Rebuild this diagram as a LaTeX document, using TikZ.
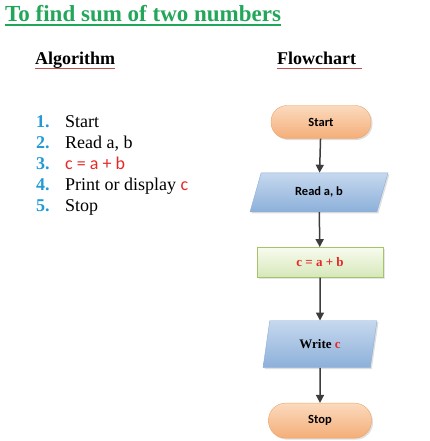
\documentclass[tikz,border=0pt]{standalone}
\usepackage{fontspec}
\setmainfont{Liberation Serif}
\newfontfamily\calibri{Carlito}
\usetikzlibrary{positioning,shapes.geometric,shadows,arrows.meta}
\definecolor{titlegreen}{RGB}{34,166,90}
\definecolor{linered}{RGB}{192,80,77}
\definecolor{numblue}{RGB}{35,155,210}
\definecolor{algred}{RGB}{230,40,40}
\definecolor{arrowgray}{RGB}{60,60,60}
\begin{document}
\begin{tikzpicture}[x=1pt,y=1pt,>={Triangle[length=8pt,width=8pt]},
		heading/.style={anchor=base west, inner sep=0pt, font=\fontsize{18}{22}\selectfont\bfseries},
		listnum/.style={anchor=base west, inner sep=0pt, text=numblue, font=\fontsize{18}{22}\selectfont\bfseries},
		listitem/.style={anchor=base west, inner sep=0pt, font=\fontsize{18}{22}\selectfont},
		terminal/.style={rectangle, rounded corners=16pt, minimum width=100pt, minimum height=33pt, draw={rgb,255:red,238;green,165;blue,105}, top color={rgb,255:red,251;green,218;blue,190}, bottom color={rgb,255:red,244;green,174;blue,120}, drop shadow={opacity=0.25, shadow xshift=1.5pt, shadow yshift=-1.5pt}, font=\calibri\fontsize{12.5}{14}\selectfont\bfseries},
		iobox/.style={trapezium, trapezium stretches body, draw={rgb,255:red,140;green,175;blue,215}, top color={rgb,255:red,198;green,216;blue,238}, bottom color={rgb,255:red,140;green,176;blue,218}, drop shadow={opacity=0.25, shadow xshift=1.5pt, shadow yshift=-1.5pt}, font=\fontsize{13}{15}\selectfont\bfseries},
		procbox/.style={rectangle, minimum width=126pt, minimum height=30pt, draw={rgb,255:red,165;green,196;blue,105}, top color={rgb,255:red,248;green,251;blue,238}, bottom color={rgb,255:red,214;green,232;blue,186}, drop shadow={opacity=0.2, shadow xshift=1.5pt, shadow yshift=-1.5pt}, font=\fontsize{13}{15}\selectfont\bfseries},
		flow/.style={draw, ->, arrowgray, line width=1.5pt}]
	\useasboundingbox (0,0) rectangle (430,-441);

	% title and headings
	\node[heading, text=titlegreen, font=\fontsize{23}{27}\selectfont\bfseries] (title) at (5,-22) {To find sum of two numbers};
	\draw[titlegreen, line width=2pt] ([yshift=-3pt]title.base west) -- ([yshift=-3pt]title.base east);
	\node[heading] (alg) at (35,-65) {Algorithm};
	\draw[linered, line width=1pt] ([yshift=-3.5pt]alg.base west) -- ([yshift=-3.5pt]alg.base east);
	\node[heading] (fc) at (277,-65) {Flowchart};
	\draw[linered, line width=1pt] ([yshift=-3.5pt]fc.base west) -- ([yshift=-3.5pt,xshift=6pt]fc.base east);

	% algorithm steps
	\foreach \i/\t in {1/Start, 2/{Read a, b}, 3/{\textcolor{algred}{\calibri c = a + b}}, 4/{Print or display \textcolor{algred}{\calibri c}}, 5/Stop}{
		\node[listnum] (num\i) at (36,-106-21*\i) {\i.};
		\node[listitem] (item\i) at (65,-106-21*\i) {\t};
	}

	% flowchart
	\node[terminal] (start) at (321,-122) {Start};
	\node[iobox, trapezium left angle=57, trapezium right angle=123, minimum width=138pt, minimum height=39pt, below=34pt of start, xshift=-2pt, font=\calibri\fontsize{12.5}{14}\selectfont\bfseries] (read) {Read a, b};
	\node[procbox, below=35pt of read, xshift=1pt, text=algred] (sum) {c = a + b};
	\node[iobox, trapezium left angle=67, trapezium right angle=113, minimum width=114pt, minimum height=47pt, below=43pt of sum] (write) {Write \textcolor{algred}{c}};
	\node[terminal, below=35pt of write, minimum width=103pt, minimum height=35pt, rounded corners=17pt] (stop) {Stop};

	\path[flow] (start) -- (read);
	\path[flow] (read) -- (sum);
	\path[flow] (sum) -- (write);
	\path[flow] (write) -- (stop);
\end{tikzpicture}
\end{document}
